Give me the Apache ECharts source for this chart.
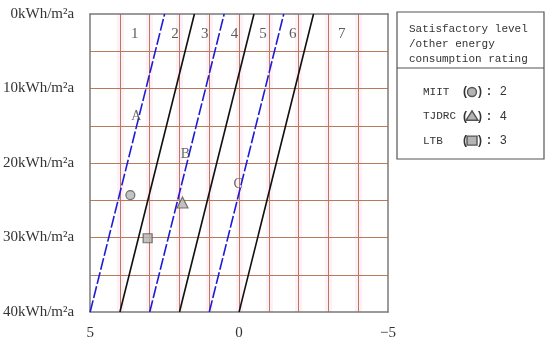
<!DOCTYPE html>
<html>
<head>
<meta charset="utf-8">
<script src="https://cdn.jsdelivr.net/npm/echarts@6/dist/echarts.min.js"></script>
<style>
  html, body { margin: 0; padding: 0; background: #fff; }
  #chart { width: 550px; height: 347px; }
</style>
</head>
<body>
<div id="chart"></div>
<script>
  // rating lines: [bottom point, top point] in (score, kWh/m2a)
  var blueLines = [
    [[5, 40], [2.5, 0]],
    [[3, 40], [0.5, 0]],
    [[1, 40], [-1.5, 0]]
  ];
  var blackLines = [
    [[4, 40], [1.5, 0]],
    [[2, 40], [-0.5, 0]],
    [[0, 40], [-2.5, 0]]
  ];

  var zoneNames = ["1", "2", "3", "4", "5", "6", "7"];
  var zoneX = [3.5, 2.15, 1.15, 0.15, -0.8, -1.8, -3.45];
  var zoneY = 2.65;

  var curveNames = ["A", "B", "C"];
  var curveX = [3.45, 1.8, 0.03];
  var curveY = [13.7, 18.9, 22.8];

  var sources = ["MIIT", "TJDRC", "LTB"];
  var sourceX = [3.65, 1.9, 3.07];
  var sourceY = [24.3, 25.3, 30.1];
  var ratings = [2, 4, 3];

  var yUnit = "kWh/m\u00b2a";
  var legendTitle = ["Satisfactory level", "/other energy", "consumption rating"];

  var serif = "Liberation Serif";
  var mono = "Liberation Mono";
  var gridColor = "#b87a5c";
  var haloColor = "rgba(255,170,215,0.18)";
  var frameColor = "#7a7a7a";
  var markFill = "#b4b4b4";
  var markEdge = "#555";
  var shapes = ["circle", "triangle", "rect"];
  var shapeSize = [9, 11, 9];

  var chart = echarts.init(document.getElementById("chart"));

  var series = [];
  blueLines.forEach(function (pts) {
    series.push({
      type: "line",
      data: pts,
      showSymbol: false,
      silent: true,
      lineStyle: { color: "#1c1cd8", width: 1.6, type: [12, 2.5] },
      z: 5
    });
  });
  blackLines.forEach(function (pts) {
    series.push({
      type: "line",
      data: pts,
      showSymbol: false,
      silent: true,
      lineStyle: { color: "#111", width: 1.6 },
      z: 5
    });
  });

  series.push({
    type: "scatter",
    symbolSize: 0,
    data: zoneNames.map(function (n, i) {
      return { value: [zoneX[i], zoneY], name: n };
    }),
    label: {
      show: true,
      position: "inside",
      formatter: "{b}",
      fontFamily: serif,
      fontSize: 15,
      color: "#333"
    },
    z: 6
  });

  series.push({
    type: "scatter",
    symbolSize: 0,
    data: curveNames.map(function (n, i) {
      return { value: [curveX[i], curveY[i]], name: n };
    }),
    label: {
      show: true,
      position: "inside",
      formatter: "{b}",
      fontFamily: serif,
      fontSize: 14,
      color: "#444"
    },
    z: 6
  });

  sources.forEach(function (s, i) {
    series.push({
      name: s,
      type: "scatter",
      symbol: shapes[i],
      symbolSize: shapeSize[i],
      data: [[sourceX[i], sourceY[i]]],
      itemStyle: { color: markFill, borderColor: markEdge, borderWidth: 1.2 },
      z: 7
    });
  });

  // legend box on the right
  var graphics = [
    {
      type: "rect",
      shape: { x: 397, y: 12, width: 147, height: 147 },
      style: { fill: "#fff", stroke: "#555", lineWidth: 1.2 }
    },
    {
      type: "line",
      shape: { x1: 397, y1: 68, x2: 544, y2: 68 },
      style: { stroke: "#555", lineWidth: 1.2 }
    }
  ];
  legendTitle.forEach(function (t, i) {
    graphics.push({
      type: "text",
      x: 409,
      y: 29 + i * 15,
      style: {
        text: t,
        font: "11px " + mono,
        fill: "#333",
        verticalAlign: "middle"
      }
    });
  });
  function txt(x, y, s, font) {
    return {
      type: "text",
      x: x,
      y: y,
      style: { text: s, font: font, fill: "#333", verticalAlign: "middle" }
    };
  }
  sources.forEach(function (s, i) {
    var y = 92 + i * 24.3;
    graphics.push(txt(423, y, s, "11px " + mono));
    graphics.push(txt(463, y, "(", "bold 12px Liberation Sans"));
    graphics.push(txt(478, y, ")", "bold 12px Liberation Sans"));
    graphics.push(txt(487, y, ":", "bold 12px Liberation Sans"));
    graphics.push(txt(500, y, String(ratings[i]), "12px Liberation Sans"));
    var cx = 472;
    var shape;
    if (shapes[i] === "circle") {
      shape = { type: "circle", shape: { cx: cx, cy: y, r: 4.5 } };
    } else if (shapes[i] === "triangle") {
      shape = { type: "polygon", shape: { points: [[cx, y - 5.5], [cx - 6, y + 4], [cx + 6, y + 4]] } };
    } else {
      shape = { type: "rect", shape: { x: cx - 5, y: y - 4.5, width: 10, height: 9 } };
    }
    shape.style = { fill: markFill, stroke: markEdge, lineWidth: 1.4 };
    graphics.push(shape);
  });

  var hidden = { show: false };
  function frameAxis(pos, isX) {
    return {
      type: "value",
      position: pos,
      inverse: true,
      min: isX ? -5 : 0,
      max: isX ? 5 : 40,
      axisLine: { show: true, onZero: false, lineStyle: { color: frameColor, width: 1.5 } },
      axisTick: hidden,
      axisLabel: hidden,
      splitLine: hidden,
      z: 4
    };
  }

  chart.setOption({
    animation: false,
    grid: { left: 90, right: 162, top: 14, bottom: 35 },
    xAxis: [
      {
        type: "value",
        inverse: true,
        min: -5,
        max: 5,
        interval: 1,
        axisLine: hidden,
        axisTick: hidden,
        splitLine: {
          show: true,
          showMinLine: false,
          showMaxLine: false,
          lineStyle: { color: gridColor, width: 1 }
        },
        axisLabel: {
          margin: 14,
          fontFamily: serif,
          fontSize: 15,
          color: "#333",
          formatter: function (v) {
            if (v % 5 !== 0) return "";
            return v < 0 ? "\u2212" + Math.abs(v) : String(v);
          }
        },
        z: 2
      },
      {
        // soft halo under the vertical grid lines
        type: "value",
        inverse: true,
        min: -5,
        max: 5,
        interval: 1,
        axisLine: hidden,
        axisTick: hidden,
        axisLabel: hidden,
        splitLine: {
          show: true,
          showMinLine: false,
          showMaxLine: false,
          lineStyle: { color: haloColor, width: 7 }
        },
        z: 0
      },
      frameAxis("top", true),
      frameAxis("bottom", true)
    ],
    yAxis: [
      {
        type: "value",
        inverse: true,
        min: 0,
        max: 40,
        interval: 5,
        axisLine: hidden,
        axisTick: hidden,
        splitLine: {
          show: true,
          showMinLine: false,
          showMaxLine: false,
          lineStyle: { color: gridColor, width: 1 }
        },
        axisLabel: {
          margin: 16,
          fontFamily: serif,
          fontSize: 15,
          color: "#333",
          formatter: function (v) {
            return v % 10 === 0 ? v + yUnit : "";
          }
        },
        z: 2
      },
      frameAxis("left", false),
      frameAxis("right", false)
    ],
    series: series,
    graphic: graphics
  });

  window.addEventListener("resize", function () {
    chart.resize();
  });
</script>
</body>
</html>
